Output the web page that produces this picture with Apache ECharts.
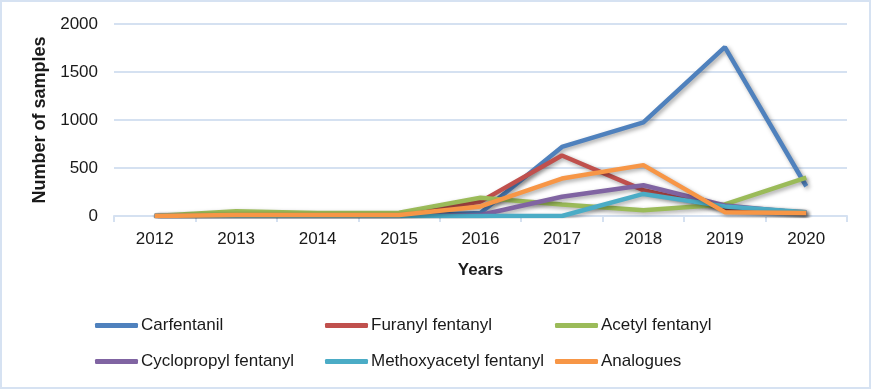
<!DOCTYPE html>
<html>
<head>
<meta charset="utf-8">
<script src="https://cdn.jsdelivr.net/npm/echarts@6/dist/echarts.min.js"></script>
<style>
html,body{margin:0;padding:0;background:#fff;}
#chart{width:867px;height:385px;border:2px solid #d6e2f2;}
</style>
</head>
<body>
<div id="chart"></div>
<script>
const years = ['2012','2013','2014','2015','2016','2017','2018','2019','2020'];
const carfentanil = [0,0,0,0,30,720,975,1760,310];
const furanylFentanyl = [0,0,0,0,150,630,270,80,40];
const acetylFentanyl = [0,50,30,35,190,120,60,120,400];
const cyclopropylFentanyl = [0,0,0,0,10,200,320,110,30];
const methoxyacetylFentanyl = [0,0,0,0,0,0,230,100,40];
const analogues = [0,10,10,10,100,390,530,40,30];
const yTicks = [0,500,1000,1500,2000];

const names = ['Carfentanil','Furanyl fentanyl','Acetyl fentanyl','Cyclopropyl fentanyl','Methoxyacetyl fentanyl','Analogues'];
const values = [carfentanil,furanylFentanyl,acetylFentanyl,cyclopropylFentanyl,methoxyacetylFentanyl,analogues];
const colors = ['#4F81BD','#C0504D','#9BBB59','#8064A2','#4BACC6','#F79646'];
const font = 'Liberation Sans, Arial, sans-serif';
const gridColor = '#d5e1f1';
const legendLeft = [93, 323, 553];
const legendTop = [315, 351];

const chart = echarts.init(document.getElementById('chart'));
const legends = names.map((n,i)=>({
  orient:'horizontal', left:legendLeft[i%3], top:legendTop[Math.floor(i/3)],
  itemGap:0, itemWidth:43, itemHeight:5, icon:'roundRect', padding:0,
  textStyle:{fontFamily:font, fontSize:17, color:'#1a1a1a', padding:[0,0,0,-2]},
  data:[n]
}));
chart.setOption({
  animation:false,
  color:colors,
  grid:{left:112, right:22, top:22, bottom:171, containLabel:false},
  legend:legends,
  xAxis:{
    type:'category', data:years, boundaryGap:true,
    name:'Years', nameLocation:'middle', nameGap:46,
    nameTextStyle:{fontFamily:font, fontSize:17, fontWeight:'bold', color:'#1a1a1a'},
    axisLine:{lineStyle:{color:gridColor, width:2}},
    axisTick:{show:true, length:6, lineStyle:{color:gridColor, width:2}},
    axisLabel:{fontFamily:font, fontSize:17, color:'#1a1a1a', margin:15}
  },
  yAxis:{
    type:'value', min:yTicks[0], max:yTicks[yTicks.length-1], interval:500,
    name:'Number of samples', nameLocation:'middle', nameGap:55,
    nameTextStyle:{fontFamily:font, fontSize:18, fontWeight:'bold', color:'#1a1a1a'},
    axisLine:{show:false}, axisTick:{show:false},
    splitLine:{lineStyle:{color:gridColor, width:2}},
    axisLabel:{fontFamily:font, fontSize:17, color:'#1a1a1a', margin:16, formatter:v=>String(v)}
  },
  series:names.map((n,i)=>({
    name:n, type:'line', data:values[i], symbol:'none', showSymbol:false,
    lineStyle:{width:4.5, color:colors[i], shadowColor:'rgba(0,0,0,0.35)', shadowBlur:4, shadowOffsetX:2, shadowOffsetY:2},
    itemStyle:{color:colors[i]}
  }))
});
</script>
</body>
</html>
